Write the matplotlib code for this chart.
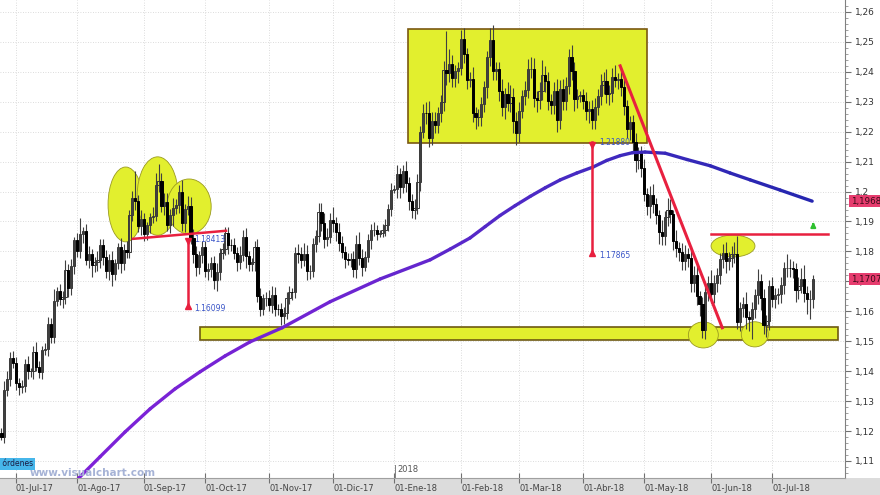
import numpy as np
import pandas as pd
import matplotlib
matplotlib.use('Agg')
import matplotlib.pyplot as plt
from matplotlib.patches import Rectangle, Ellipse
from matplotlib.collections import LineCollection
from matplotlib.colors import LinearSegmentedColormap

# EUR/USD daily, 26-Jun-2017 .. 20-Jul-2018, one row per week (Mon..Fri)
first_open = 1.1195
closes = [
    1.1181, 1.1336, 1.1375, 1.1443, 1.1426,
    1.1362, 1.1346, 1.1350, 1.1424, 1.1399,
    1.1399, 1.1463, 1.1415, 1.1398, 1.1470,
    1.1474, 1.1557, 1.1514, 1.1633, 1.1667,
    1.1641, 1.1648, 1.1738, 1.1679, 1.1750,
    1.1838, 1.1803, 1.1858, 1.1868, 1.1773,
    1.1792, 1.1755, 1.1763, 1.1770, 1.1821,
    1.1780, 1.1736, 1.1770, 1.1723, 1.1760,
    1.1814, 1.1762, 1.1806, 1.1798, 1.1922,
    1.1978, 1.1967, 1.1886, 1.1909, 1.1859,
    1.1888, 1.1915, 1.1920, 1.2022, 1.2036,
    1.1953, 1.1966, 1.1887, 1.1921, 1.1945,
    1.1954, 1.1998, 1.1894, 1.1942, 1.1951,
    1.1846, 1.1792, 1.1748, 1.1787, 1.1815,
    1.1734, 1.1741, 1.1760, 1.1703, 1.1730,
    1.1796, 1.1809, 1.1861, 1.1823, 1.1821,
    1.1796, 1.1765, 1.1788, 1.1847, 1.1785,
    1.1759, 1.1763, 1.1815, 1.1652, 1.1608,
    1.1643, 1.1645, 1.1620, 1.1656, 1.1609,
    1.1608, 1.1583, 1.1594, 1.1643, 1.1664,
    1.1663, 1.1794, 1.1791, 1.1771, 1.1793,
    1.1733, 1.1735, 1.1824, 1.1853, 1.1933,
    1.1894, 1.1843, 1.1847, 1.1905, 1.1894,
    1.1866, 1.1827, 1.1798, 1.1774, 1.1773,
    1.1775, 1.1740, 1.1824, 1.1778, 1.1749,
    1.1783, 1.1838, 1.1871, 1.1873, 1.1857,
    1.1862, 1.1871, 1.1889, 1.1943, 1.2005,
    1.2007, 1.2060, 1.2014, 1.2068, 1.2030,
    1.1967, 1.1937, 1.1945, 1.2033, 1.2200,
    1.2264, 1.2262, 1.2180, 1.2237, 1.2221,
    1.2261, 1.2298, 1.2407, 1.2396, 1.2427,
    1.2380, 1.2402, 1.2414, 1.2511, 1.2459,
    1.2373, 1.2376, 1.2264, 1.2250, 1.2250,
    1.2291, 1.2351, 1.2450, 1.2508, 1.2404,
    1.2409, 1.2337, 1.2284, 1.2327, 1.2295,
    1.2317, 1.2235, 1.2194, 1.2270, 1.2318,
    1.2338, 1.2408, 1.2410, 1.2311, 1.2307,
    1.2337, 1.2390, 1.2369, 1.2302, 1.2289,
    1.2337, 1.2240, 1.2342, 1.2302, 1.2352,
    1.2449, 1.2404, 1.2310, 1.2318, 1.2322,
    1.2302, 1.2270, 1.2276, 1.2239, 1.2282,
    1.2319, 1.2357, 1.2368, 1.2325, 1.2330,
    1.2382, 1.2373, 1.2375, 1.2349, 1.2287,
    1.2208, 1.2232, 1.2164, 1.2104, 1.2128,
    1.2078, 1.1993, 1.1952, 1.1990, 1.1960,
    1.1922, 1.1864, 1.1850, 1.1915, 1.1940,
    1.1925, 1.1836, 1.1811, 1.1799, 1.1768,
    1.1793, 1.1779, 1.1695, 1.1721, 1.1652,
    1.1624, 1.1537, 1.1664, 1.1693, 1.1657,
    1.1695, 1.1720, 1.1776, 1.1796, 1.1768,
    1.1777, 1.1792, 1.1793, 1.1565, 1.1610,
    1.1623, 1.1582, 1.1573, 1.1606, 1.1655,
    1.1701, 1.1645, 1.1553, 1.1568, 1.1685,
    1.1640, 1.1654, 1.1657, 1.1688, 1.1744,
    1.1746, 1.1743, 1.1741, 1.1671, 1.1686,
    1.1709, 1.1660, 1.1640, 1.1642, 1.1707,
]

# upper / lower shadows in pips
wick_up = [
    15, 30, 25, 20, 25,  20, 15, 20, 15, 25,  10, 20, 35, 20, 15,
    20, 25, 20, 40, 15,  25, 20, 35, 20, 25,  10, 25, 52, 15, 25,
    25, 15, 20, 30, 20,  20, 25, 20, 30, 15,  15, 30, 20, 30, 15,
    25, 92, 20, 30, 20,  10, 15, 30, 40, 56,  25, 30, 30, 20, 35,
    20, 25, 40, 15, 35,  30, 30, 25, 15, 20,  20, 20, 20, 25, 30,
    15, 20, 20, 20, 20,  25, 20, 30, 25, 30,  15, 15, 20, 25, 25,
    15, 20, 25, 30, 25,  15, 20, 20, 20, 20,  15, 20, 30, 25, 35,
    30, 20, 20, 20, 30,  30, 35, 30, 25, 45,  20, 30, 25, 20, 20,
    20, 25, 30, 40, 30,  20, 20, 20, 25, 15,  10, 20, 20, 15, 25,
    15, 30, 20, 20, 35,  20, 25, 30, 25, 20,  30, 35, 40, 30, 30,
    20, 25, 30, 130, 50, 30, 20, 20, 30, 35,  20, 25, 40, 20, 25,
    25, 20, 20, 40, 47,  25, 25, 40, 20, 40,  40, 30, 30, 30, 20,
    30, 35, 40, 35, 25,  30, 50, 30, 30, 25,  30, 40, 30, 35, 30,
    27, 40, 30, 25, 15,  20, 30, 25, 30, 30,  25, 35, 30, 40, 25,
    32, 40, 20, 30, 30,  20, 20, 25, 30, 20,  25, 30, 20, 30, 35,
    20, 15, 40, 20, 40,  35, 15, 35, 20, 30,  30, 20, 40, 30, 35,
    15, 25, 30, 25, 45,  25, 25, 20, 30, 35,  20, 25, 40, 59, 20,
    25, 40, 20, 25, 20,  40, 25, 30, 20, 20,  30, 25, 20, 25, 20,
    45, 30, 25, 20, 30,  35, 45, 25, 30, 15,
]
wick_dn = [
    10, 20, 20, 25, 15,  25, 25, 20, 20, 25,  20, 25, 15, 20, 25,
    15, 25, 20, 20, 15,  20, 30, 25, 30, 25,  25, 20, 25, 30, 20,
    30, 40, 25, 30, 25,  25, 25, 30, 40, 20,  20, 35, 25, 20, 20,
    20, 30, 20, 30, 25,  20, 25, 20, 20, 25,  20, 30, 20, 25, 35,
    20, 25, 25, 30, 20,  20, 30, 30, 25, 25,  20, 30, 25, 30, 35,
    25, 20, 20, 30, 20,  20, 30, 25, 20, 40,  25, 25, 30, 20, 25,
    20, 25, 20, 25, 25,  20, 30, 25, 20, 20,  25, 20, 30, 25, 20,
    30, 25, 20, 25, 20,  25, 30, 25, 20, 30,  30, 25, 20, 30, 20,
    25, 25, 30, 25, 30,  15, 20, 30, 20, 20,  10, 15, 20, 20, 25,
    10, 30, 35, 20, 30,  30, 25, 30, 20, 30,  20, 35, 30, 25, 25,
    25, 30, 30, 40, 30,  30, 30, 40, 25, 30,  30, 25, 30, 40, 30,
    30, 25, 40, 30, 30,  30, 35, 30, 40, 25,  30, 40, 40, 30, 25,
    30, 25, 30, 30, 40,  30, 30, 35, 30, 30,  30, 40, 30, 30, 30,
    25, 30, 40, 30, 20,  25, 30, 40, 30, 30,  25, 30, 30, 30, 35,
    30, 25, 30, 30, 30,  30, 35, 30, 40, 30,  30, 25, 30, 40, 30,
    30, 40, 30, 30, 30,  30, 30, 30, 30, 30,  30, 30, 30, 30, 30,
    40, 27, 30, 30, 30,  30, 30, 30, 30, 40,  30, 30, 30, 24, 30,
    30, 40, 40, 65, 30,  30, 40, 30, 40, 30,  25, 30, 30, 30, 30,
    30, 30, 30, 40, 30,  25, 30, 50, 65, 30,
]

# 200-session moving average (bar index, price)
ma_idx = [24.0, 26.7, 33.9, 42.5, 51.1, 59.7, 68.3, 76.9, 85.5, 96.5, 113.0,
          130.2, 147.4, 154.3, 161.1, 166.3, 171.4, 176.6, 181.8, 187.0,
          192.1, 197.8, 203.4, 208.1, 212.7, 217.0, 221.3, 228.2, 235.7,
          243.7, 250.5, 257.4, 267.7, 278.7]
ma_val = [1.1012, 1.1044, 1.1114, 1.1197, 1.1274, 1.1341, 1.1398, 1.1451,
          1.1498, 1.1545, 1.1632, 1.1708, 1.1772, 1.1808, 1.1845, 1.1883,
          1.1920, 1.1953, 1.1984, 1.2013, 1.2039, 1.2062, 1.2082, 1.2104,
          1.2120, 1.2130, 1.2132, 1.2128, 1.2107, 1.2086, 1.2062, 1.2039,
          1.2005, 1.1968]

months_es = ['Ene', 'Feb', 'Mar', 'Abr', 'May', 'Jun',
             'Jul', 'Ago', 'Sep', 'Oct', 'Nov', 'Dic']

# hand-drawn study objects (bar index, price)
range_box = (139.8, 1.2162, 222.0, 1.2543)
support_band = (68.3, 1.1504, 287.7, 1.1548)
ellipses = [(42.7, 1.1957, 12.1, 0.0250), (53.7, 1.1985, 14.1, 0.0262),
            (64.5, 1.1950, 15.2, 0.0184), (251.5, 1.1818, 15.1, 0.0073),
            (241.3, 1.1521, 10.3, 0.0087), (259.0, 1.1523, 9.3, 0.0084)]
neckline = ([45.2, 77.2], [1.1842, 1.1869])
trendline = ([212.7, 247.8], [1.2420, 1.1545])
resistance = ([244.0, 284.2], [1.1858, 1.1858])
targets = [(64.1, 1.18413, 1.16099, '1.18413', '1.16099'),
           (203.1, 1.2165, 1.17865, '1.21880', '1.17865')]
tags = [(1.19682, '1,19682'), (1.17073, '1,17073')]

dates = pd.bdate_range('2017-06-26', '2018-07-20')
n = len(dates)
c = np.array(closes)
o = np.concatenate([[first_open], c[:-1]])
hi = np.maximum(o, c) + np.array(wick_up) * 1e-4
lo = np.minimum(o, c) - np.array(wick_dn) * 1e-4
x = np.arange(n)

W, H = 880, 495
fig = plt.figure(figsize=(W / 100, H / 100), dpi=100)
fig.patch.set_facecolor('white')
strip_h = 17 / H

# bottom grey date strip (drawn under the axes)
fig.patches.append(Rectangle((0, 0), 1, strip_h, transform=fig.transFigure,
                             facecolor='#dcdcdc', edgecolor='none', zorder=-5))

ax = fig.add_axes([0, strip_h, 845 / W, 1 - strip_h])
ax.patch.set_alpha(0)
ax.set_xlim(-0.5, 290)
ax.set_ylim(1.1043, 1.2640)

red = '#e8203f'
yellow = '#e2ef2e'

# month ticks
tick_pos, tick_lab = [], []
for i in range(1, n):
    if dates[i].month != dates[i - 1].month:
        d = dates[i]
        tick_pos.append(i)
        tick_lab.append('01-%s-%02d' % (months_es[d.month - 1], d.year % 100))

for tp in tick_pos:
    ax.axvline(tp, color='#d0d0d0', lw=0.6, ls=(0, (1, 2)), zorder=0)
for yv in np.arange(1.11, 1.2601, 0.01):
    ax.axhline(yv, color='#d0d0d0', lw=0.6, ls=(0, (1, 2)), zorder=0)

# shapes behind the candles
ax.add_patch(Rectangle((range_box[0], range_box[1]), range_box[2] - range_box[0],
                       range_box[3] - range_box[1], facecolor=yellow,
                       edgecolor='#7a5810', lw=1.2, zorder=1))
ax.add_patch(Rectangle((support_band[0], support_band[1]),
                       support_band[2] - support_band[0],
                       support_band[3] - support_band[1], facecolor=yellow,
                       edgecolor='#6e5a12', lw=1.2, zorder=1))
for ex, ey, ew, eh in ellipses:
    ax.add_patch(Ellipse((ex, ey), ew, eh, facecolor=yellow,
                         edgecolor='#9a9a20', lw=0.6, zorder=1))

# candles
up = c >= o
ax.vlines(x, lo, hi, color='#404040', lw=0.8, zorder=3)
ax.bar(x[up], (c - o)[up], bottom=o[up], width=0.75, facecolor='none',
       edgecolor='#383838', lw=0.7, zorder=3)
ax.bar(x[~up], (c - o)[~up], bottom=o[~up], width=0.75, facecolor='black',
       edgecolor='black', lw=0.7, zorder=3)

# moving average with colour shading
pts = np.column_stack([ma_idx, ma_val])
segs = np.stack([pts[:-1], pts[1:]], axis=1)
cmap = LinearSegmentedColormap.from_list(
    'ma', ['#7e22d8', '#7024d2', '#4a2ac4', '#2626b0'])
lc = LineCollection(segs, cmap=cmap, lw=2.4, zorder=4, capstyle='round',
                    joinstyle='round')
lc.set_array(np.array(ma_idx[:-1]) / ma_idx[-1])
ax.add_collection(lc)

# red study lines
ax.plot(*neckline, color=red, lw=1.8, zorder=5)
ax.plot(*trendline, color=red, lw=2.2, zorder=5)
ax.plot(*resistance, color=red, lw=1.8, zorder=5)
for tx, ytop, ybot, ltop, lbot in targets:
    ax.plot([tx, tx], [ytop, ybot], color=red, lw=1.8, zorder=5)
    ax.plot(tx, ytop - 0.0008, marker='v', ms=5, color=red, zorder=6)
    ax.plot(tx, ybot + 0.0008, marker='^', ms=5, color=red, zorder=6)
    ax.text(tx + 2.3, ytop, ltop, fontsize=5.5, color='#3a55c8',
            va='center', ha='left', zorder=6)
    ax.text(tx + 2.3, ybot, lbot, fontsize=5.5, color='#3a55c8',
            va='center', ha='left', zorder=6)
ax.annotate('', xy=(279.1, 1.1908), xytext=(279.1, 1.1878),
            arrowprops=dict(arrowstyle='-|>', color='#2fc02f', lw=1.5,
                            mutation_scale=7), zorder=6)

# axes styling
for s in ['top', 'left']:
    ax.spines[s].set_visible(False)
ax.spines['right'].set_color('#808080')
ax.spines['bottom'].set_color('#a0a0a0')
ax.yaxis.tick_right()
ax.set_yticks(np.arange(1.11, 1.2601, 0.01))
ax.set_yticklabels([('%.2f' % v).rstrip('0').replace('.', ',')
                    for v in np.arange(1.11, 1.2601, 0.01)])
ax.set_yticks(np.arange(1.106, 1.2631, 0.002), minor=True)
ax.tick_params(axis='y', which='major', length=4, color='#707070',
               labelsize=6.5, labelcolor='#333333', pad=3)
ax.tick_params(axis='y', which='minor', length=2, color='#909090')
ax.set_xticks(tick_pos)
ax.set_xticklabels(tick_lab, ha='left')
ax.tick_params(axis='x', direction='inout', length=7, color='#707070',
               labelsize=6, labelcolor='#444444', pad=1)

# year marker
ax.plot([tick_pos[6] + 0.3] * 2, [1.1044, 1.1088], color='#808080', lw=0.7,
        clip_on=False, zorder=2)
ax.text(tick_pos[6] + 1.2, 1.1073, '2018', fontsize=6, color='#555555',
        va='center', ha='left')

# right side value tags
for val, lab in tags:
    yf = ax.transData.transform((0, val))[1] / H
    fig.text(851 / W, yf, lab, fontsize=6.3, color='#3a0a18', va='center',
             ha='left', bbox=dict(boxstyle='square,pad=0.2', facecolor='#e63c6e',
                                  edgecolor='none'))

fig.text(-0.004, 1 - 464 / H, 's órdenes', fontsize=5.5, color='#1a1a40',
         va='center', ha='left',
         bbox=dict(boxstyle='square,pad=0.15', facecolor='#46b6ea', edgecolor='none'))
fig.text(30 / W, 1 - 473 / H, 'www.visualchart.com', fontsize=7.5,
         fontweight='bold', color='#a6b3d6', va='center', ha='left')

fig.savefig('out.png', dpi=100)
